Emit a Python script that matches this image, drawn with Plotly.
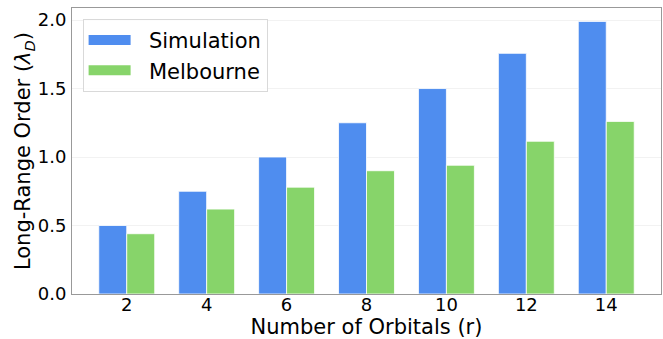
import plotly.graph_objects as go

orbitals = [2, 4, 6, 8, 10, 12, 14]
simulation = [0.50, 0.75, 1.00, 1.25, 1.50, 1.757, 1.99]
melbourne = [0.44, 0.62, 0.78, 0.90, 0.94, 1.115, 1.26]
y_ticks = [0.0, 0.5, 1.0, 1.5, 2.0]

BLUE = "#4f8def"
GREEN = "#87d46a"
FONT = "DejaVu Sans"
NB = "\u00a0\u00a0"

fig = go.Figure()
fig.add_trace(go.Bar(x=orbitals, y=simulation, name="Simulation", offset=-0.7, width=0.7,
                     marker=dict(color=BLUE, line=dict(color="rgba(255,255,255,0.8)", width=1)),
                     showlegend=False))
fig.add_trace(go.Bar(x=orbitals, y=melbourne, name="Melbourne", offset=0, width=0.7,
                     marker=dict(color=GREEN, line=dict(color="rgba(255,255,255,0.8)", width=1)),
                     showlegend=False))
# legend patches
fig.add_trace(go.Scatter(x=[None], y=[None], mode="lines", name=NB + "Simulation",
                         line=dict(color=BLUE, width=15)))
fig.add_trace(go.Scatter(x=[None], y=[None], mode="lines", name=NB + "Melbourne",
                         line=dict(color=GREEN, width=15)))

fig.update_layout(
    width=663, height=339,
    margin=dict(l=72, r=2, t=8, b=45),
    paper_bgcolor="white", plot_bgcolor="white",
    barmode="overlay",
    font=dict(family=FONT, color="black", size=18),
    legend=dict(x=0.018, y=0.962, xanchor="left", yanchor="top", itemwidth=42,
                bgcolor="rgba(255,255,255,0.8)", bordercolor="#d9d9d9", borderwidth=1,
                font=dict(size=21, family=FONT)),
    xaxis=dict(range=[0.63, 15.37], tickmode="array", tickvals=orbitals,
               ticktext=[str(o) for o in orbitals],
               showgrid=False, zeroline=False, automargin=False,
               showline=True, linecolor="#999999", linewidth=1, mirror=True,
               ticks="", ticklabelstandoff=-6,
               tickfont=dict(size=18),
               title=dict(text="Number of Orbitals (r)", font=dict(size=21), standoff=7)),
    yaxis=dict(range=[0, 2.088], tickmode="array", tickvals=y_ticks,
               ticktext=[f"{v:.1f}" for v in y_ticks],
               showgrid=True, gridcolor="#f2f2f2", gridwidth=1, zeroline=False, automargin=False,
               showline=True, linecolor="#999999", linewidth=1, mirror=True,
               ticks="", ticklabelstandoff=1,
               tickfont=dict(size=18),
               title=dict(text="Long-Range Order (<i>λ</i><sub><i>D</i></sub>)", font=dict(size=21), standoff=0)),
)

fig.write_html("out.html", config={"displayModeBar": False},
               post_script="document.body.style.margin='0';document.body.style.overflow='hidden';")
